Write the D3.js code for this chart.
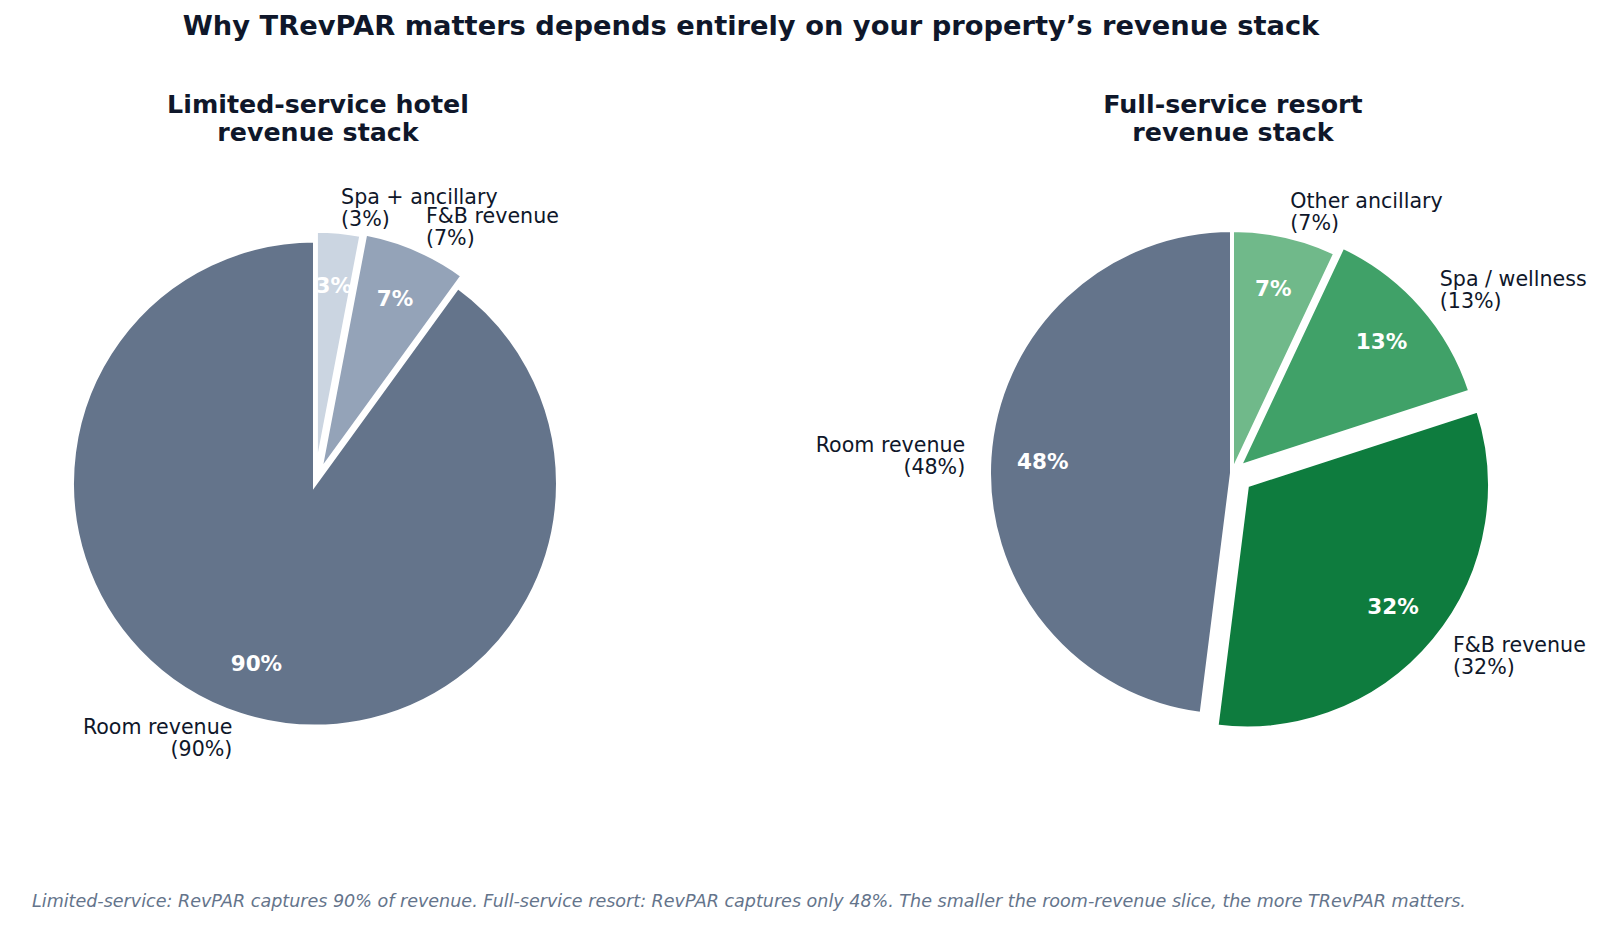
<!DOCTYPE html>
<html><head><meta charset="utf-8">
<script src="https://cdn.jsdelivr.net/npm/d3@7"></script>
<style>
body{margin:0;background:#fff}
svg{display:block}
text{font-family:"DejaVu Sans",sans-serif}
</style>
</head><body>
<svg id="chart" width="1600" height="925"></svg>
<script>
// ---- data ----
const limitedCategories = ["Room revenue", "F&B revenue", "Spa + ancillary"];
const limitedValues = [90, 7, 3];
const limitedExplode = [0, 0.05, 0.04];
const limitedColors = ["#64748b", "#94a3b8", "#cbd5e1"];

const resortCategories = ["Room revenue", "F&B revenue", "Spa / wellness", "Other ancillary"];
const resortValues = [48, 32, 13, 7];
const resortExplode = [0, 0.08, 0.04, 0];
const resortColors = ["#64748b", "#0e7c3e", "#40a168", "#70b98a"];

const titleText = "Why TRevPAR matters depends entirely on your property\u2019s revenue stack";
const limitedTitle = ["Limited-service hotel", "revenue stack"];
const resortTitle = ["Full-service resort", "revenue stack"];
const footerText = "Limited-service: RevPAR captures 90% of revenue. Full-service resort: RevPAR captures only 48%. The smaller the room-revenue slice, the more TRevPAR matters.";

// ---- drawing ----
const svg = d3.select("#chart");
const dark = "#0f172a";

svg.append("text").attr("x", 751).attr("y", 35)
  .attr("text-anchor", "middle").attr("font-size", 27.3).attr("font-weight", "bold")
  .attr("fill", dark).text(titleText);

svg.append("text").attr("x", 32).attr("y", 907)
  .attr("font-size", 17.55).attr("font-style", "italic")
  .attr("fill", "#64748b").text(footerText);

function drawPie(cx, cy, r, titleX, titleLines, cats, vals, explode, colors) {
  const g = svg.append("g");
  const color = d3.scaleOrdinal().domain(cats).range(colors);
  const pct = d3.format(".0f");
  const data = cats.map((c, i) => ({cat: c, v: vals[i], ex: explode[i]}));
  const pie = d3.pie().sort(null).value(d => d.v)
    .startAngle(0).endAngle(-2 * Math.PI);
  const arcs = pie(data);
  const arc = d3.arc().innerRadius(0).outerRadius(r);
  const labelDist = 1.1, pctDist = 0.78;

  arcs.forEach(a => {
    const mid = (a.startAngle + a.endAngle) / 2;
    a.dx = Math.sin(mid); a.dy = -Math.cos(mid);
    a.ox = cx + a.data.ex * r * a.dx;
    a.oy = cy + a.data.ex * r * a.dy;
  });

  g.selectAll("path.slice").data(arcs).join("path")
    .attr("class", "slice")
    .attr("transform", a => `translate(${a.ox},${a.oy})`)
    .attr("d", arc)
    .attr("fill", a => color(a.data.cat))
    .attr("stroke", "#ffffff").attr("stroke-width", 4)
    .attr("stroke-linejoin", "miter");

  // outer labels
  arcs.forEach(a => {
    const lx = a.ox + labelDist * r * a.dx;
    const ly = a.oy + labelDist * r * a.dy;
    const anchor = a.dx > 0 ? "start" : "end";
    const t = g.append("text").attr("font-size", 20.6).attr("fill", dark)
      .attr("text-anchor", anchor);
    t.append("tspan").attr("x", lx).attr("y", ly - 3.8).text(a.data.cat);
    t.append("tspan").attr("x", lx).attr("y", ly + 18).text(`(${pct(a.data.v)}%)`);
  });

  // percent labels
  arcs.forEach(a => {
    const px = a.ox + pctDist * r * a.dx;
    const py = a.oy + pctDist * r * a.dy;
    g.append("text").attr("x", px).attr("y", py + 7.5)
      .attr("text-anchor", "middle").attr("font-size", 21.5).attr("font-weight", "bold")
      .attr("fill", "#ffffff").text(pct(a.data.v) + "%");
  });

  // subplot title
  const tt = g.append("text").attr("text-anchor", "middle")
    .attr("font-size", 25.3).attr("font-weight", "bold").attr("fill", dark);
  titleLines.forEach((line, i) => {
    tt.append("tspan").attr("x", titleX).attr("y", 113 + i * 28).text(line);
  });
}

drawPie(315, 483.5, 243, 318, limitedTitle, limitedCategories, limitedValues, limitedExplode, limitedColors);
drawPie(1232, 473, 243, 1233, resortTitle, resortCategories, resortValues, resortExplode, resortColors);
</script>
</body></html>
